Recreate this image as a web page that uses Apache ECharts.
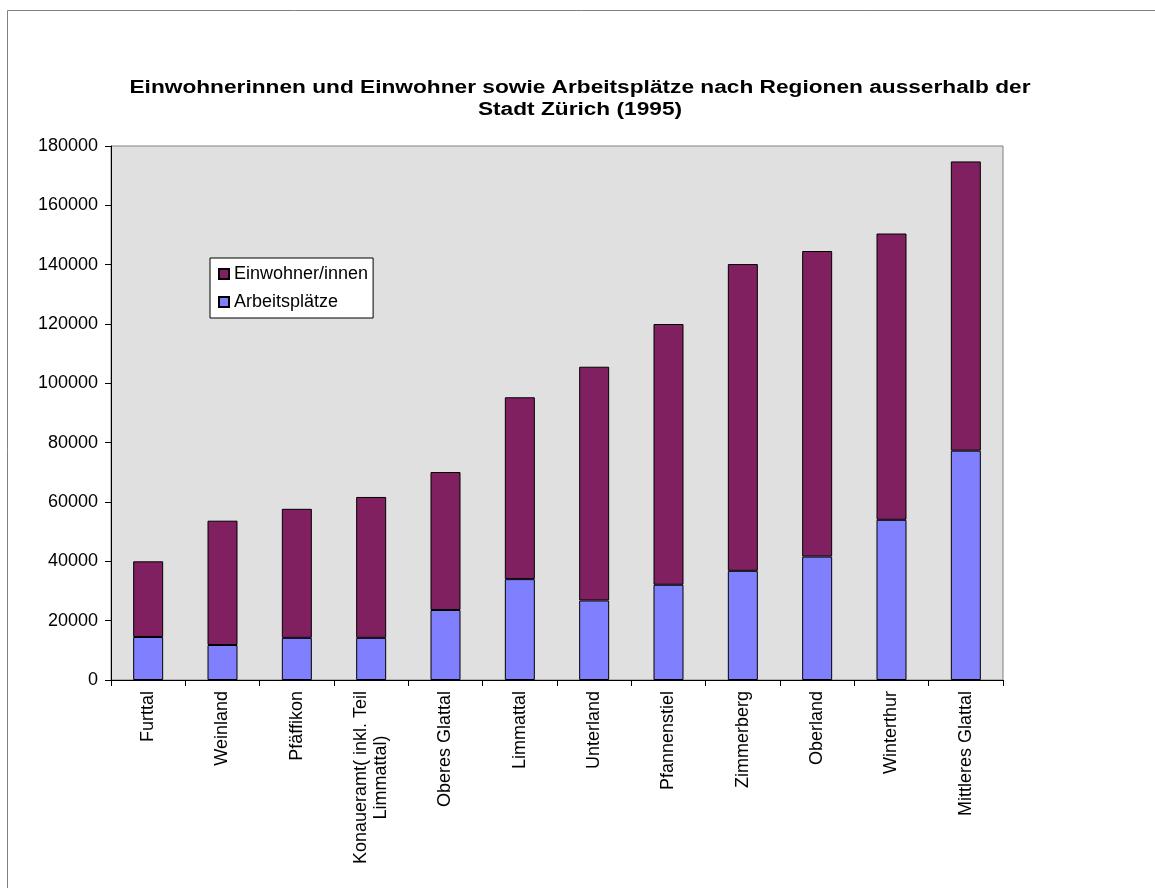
<!DOCTYPE html>
<html>
<head>
<meta charset="utf-8">
<script src="https://cdn.jsdelivr.net/npm/echarts@6/dist/echarts.min.js"></script>
<style>
  html, body { margin: 0; padding: 0; background: #fff; }
  #chart { width: 1155px; height: 888px; }
</style>
</head>
<body>
<div id="chart"></div>
<script>
let regionen = ['Furttal', 'Weinland', 'Pfäffikon', 'Konaueramt( inkl. Teil\nLimmattal)', 'Oberes Glattal',
  'Limmattal', 'Unterland', 'Pfannenstiel', 'Zimmerberg', 'Oberland', 'Winterthur', 'Mittleres Glattal']
// Arbeitsplätze (unterer Teil)
let arbeitsplaetze = [14500, 11800, 14200, 14200, 23600, 34000, 26800, 32100, 36800, 41600, 54000, 77300]
// Einwohner/innen (oberer Teil, gestapelt)
let einwohner = [25500, 41900, 43500, 47500, 46500, 61300, 78800, 87900, 103400, 103000, 96500, 97500]
let yTicks = [0, 20000, 40000, 60000, 80000, 100000, 120000, 140000, 160000, 180000]
let titel = 'Einwohnerinnen und Einwohner sowie Arbeitsplätze nach Regionen ausserhalb der\nStadt Zürich (1995)'

let font = 'Liberation Sans, Arial, sans-serif'
let myChart = echarts.init(document.getElementById('chart'))
myChart.setOption({
  animation: false,
  backgroundColor: '#fff',
  graphic: [
    {
      type: 'rect',
      shape: { x: 7.5, y: 10.5, width: 1160, height: 900 },
      style: { fill: 'none', stroke: '#808080', lineWidth: 1 }
    },
    {
      // Titel, etwas breiter gezogen wie im Original
      type: 'text',
      x: 580,
      y: 77,
      scaleX: 1.26,
      style: {
        text: titel,
        font: 'bold 18px ' + font,
        fill: '#000',
        align: 'center',
        verticalAlign: 'top',
        lineHeight: 22
      }
    }
  ],
  legend: {
    orient: 'vertical',
    left: 210,
    top: 258,
    data: ['Einwohner/innen', 'Arbeitsplätze'],
    backgroundColor: '#fff',
    borderColor: '#000',
    borderWidth: 1,
    padding: [7, 5, 7, 8],
    itemWidth: 10,
    itemHeight: 10,
    itemGap: 10,
    icon: 'rect',
    textStyle: { fontFamily: font, fontSize: 18, color: '#000' }
  },
  grid: {
    left: 111,
    right: 152,
    top: 146,
    bottom: 208,
    show: true,
    backgroundColor: '#e0e0e0',
    borderColor: '#808080',
    borderWidth: 1
  },
  xAxis: {
    type: 'category',
    data: regionen,
    axisLine: { lineStyle: { color: '#000', width: 1 } },
    axisTick: { show: true, length: 6, lineStyle: { color: '#000' } },
    axisLabel: {
      rotate: 90,
      margin: 11,
      interval: 0,
      fontFamily: font,
      fontSize: 18,
      color: '#000',
      lineHeight: 20,
      // zweite Zeile mittig unter der ersten
      formatter: function (v) {
        let teile = v.split('\n')
        if (teile.length < 2) return v
        return '{a|' + teile[0] + '}\n{c|' + teile[1] + '}'
      },
      rich: {
        a: { fontFamily: font, fontSize: 18, color: '#000', lineHeight: 20 },
        c: { fontFamily: font, fontSize: 18, color: '#000', lineHeight: 20, align: 'center' }
      }
    }
  },
  yAxis: {
    type: 'value',
    min: 0,
    max: yTicks[yTicks.length - 1],
    interval: 20000,
    axisLine: { show: true, lineStyle: { color: '#000', width: 1 } },
    axisTick: { show: true, length: 6, lineStyle: { color: '#000' } },
    splitLine: { show: false },
    axisLabel: {
      margin: 13,
      fontFamily: font,
      fontSize: 18,
      color: '#000',
      formatter: function (v) { return String(v) }
    }
  },
  series: [
    {
      name: 'Arbeitsplätze',
      type: 'bar',
      stack: 'total',
      barWidth: 30,
      itemStyle: { color: '#8080ff', borderColor: '#000', borderWidth: 1 },
      data: arbeitsplaetze
    },
    {
      name: 'Einwohner/innen',
      type: 'bar',
      stack: 'total',
      barWidth: 30,
      itemStyle: { color: '#802060', borderColor: '#000', borderWidth: 1 },
      data: einwohner
    }
  ]
})
</script>
</body>
</html>
